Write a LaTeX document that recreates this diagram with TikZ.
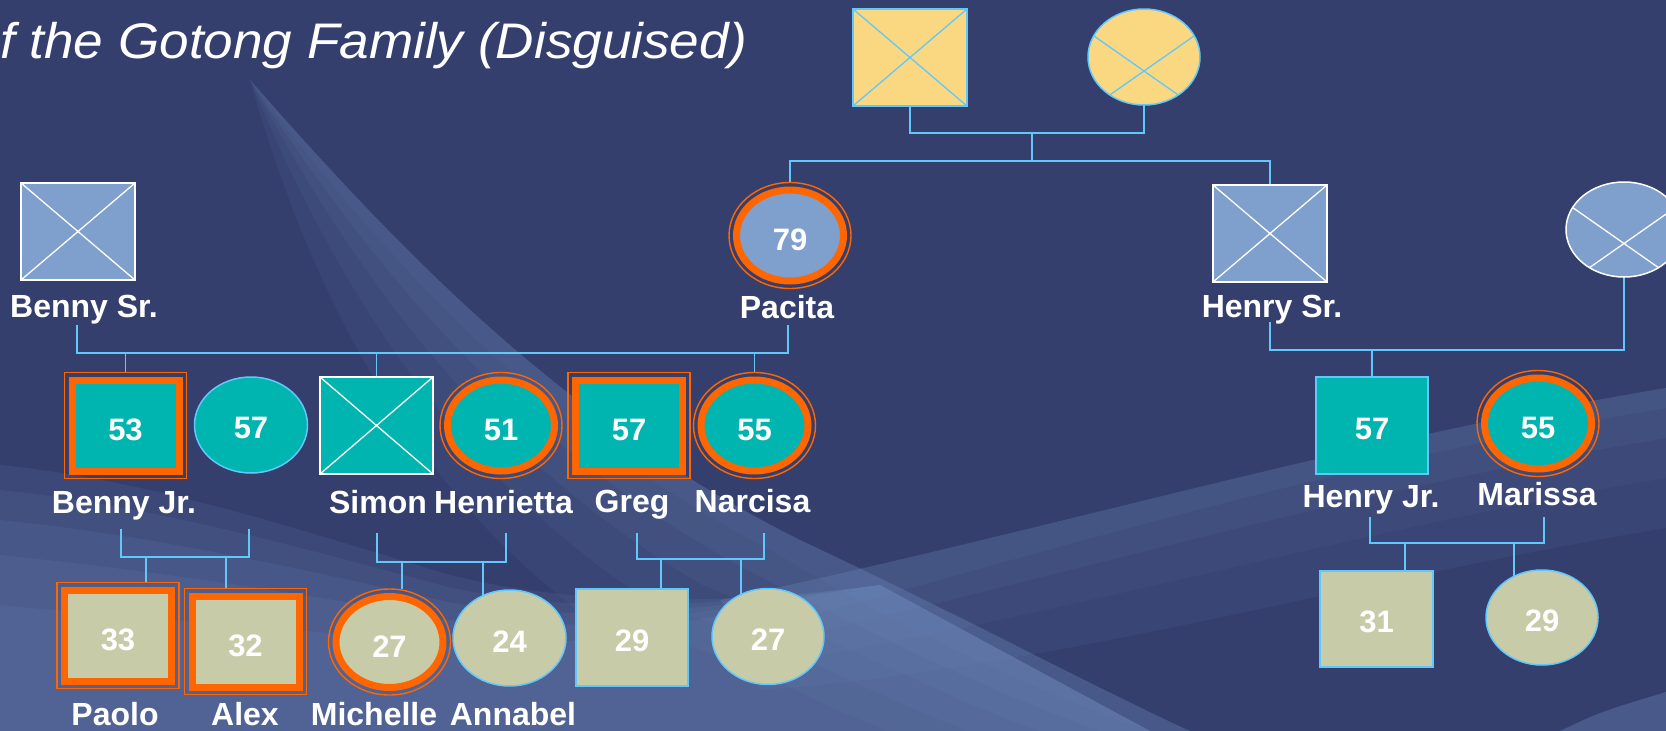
\documentclass[tikz,border=0pt]{standalone}
\usepackage{fontspec}
\usepackage{graphicx}
\setmainfont{Liberation Sans}
\usetikzlibrary{shapes.geometric}
\definecolor{bg}{RGB}{53,63,110}
\definecolor{lnblue}{RGB}{96,200,250}
\definecolor{teal2}{RGB}{0,180,176}
\definecolor{steel}{RGB}{127,159,204}
\definecolor{gold}{RGB}{250,216,130}
\definecolor{khaki}{RGB}{200,203,168}
\definecolor{orng}{RGB}{255,102,0}
\definecolor{swoosh}{RGB}{120,150,200}
\pgfdeclarelayer{bgl}
\pgfdeclarelayer{lines}
\pgfsetlayers{bgl,lines,main}
\tikzset{
  conn/.style={draw=lnblue, line width=1.7pt},
  person/.style={inner sep=0pt, outer sep=0pt, text=white, font=\fontsize{31}{31}\selectfont\bfseries, text height=28pt},
  malebox/.style={person, rectangle, minimum width=113pt, minimum height=97pt, line width=1.5pt},
  femel/.style={person, ellipse, minimum width=113pt, minimum height=96pt, line width=1.5pt},
  affbox/.style={person, rectangle, minimum width=107pt, minimum height=91pt, draw=orng, line width=7pt, text height=31pt},
  affel/.style={person, ellipse, minimum width=107pt, minimum height=91pt, draw=orng, line width=7pt, text height=31pt},
  ringbox/.style={rectangle, minimum width=122pt, minimum height=106pt, draw=orng, line width=1.4pt, inner sep=0pt, outer sep=0pt},
  ringel/.style={ellipse, minimum width=122pt, minimum height=106pt, draw=orng, line width=1.4pt, inner sep=0pt, outer sep=0pt},
  xbox/.style={path picture={\draw[#1, line width=1.3pt] (path picture bounding box.north west) -- (path picture bounding box.south east) (path picture bounding box.north east) -- (path picture bounding box.south west);}},
  xel/.style={path picture={\draw[#1, line width=1.3pt, shift={(path picture bounding box.center)}] (145:90) -- (-35:90) (35:90) -- (215:90);}},
  lbl/.style={anchor=base, inner sep=0pt, text=white, font=\fontsize{32}{32}\selectfont\bfseries},
  sw/.style={fill=swoosh, opacity=0.075},
}
\begin{document}
\begin{tikzpicture}[x=1pt, y=-1pt]
\useasboundingbox (0,0) rectangle (1666,731);
\clip (0,0) rectangle (1666,731);
\begin{pgfonlayer}{bgl}
  \fill[bg] (0,0) rectangle (1666,731);
  % diagonal ribbon, lighter towards its upper-right edge, tapering at the top
  \foreach \o in {20,45,75,110,150} {
    \fill[sw] (250,80) .. controls (400,250) and (560,420) .. (800,540) .. controls (950,610) and (1100,690) .. (1190,731)
      -- ({1190-2*\o},731) .. controls ({1100-2*\o},700) and ({950-1.5*\o},640) .. ({800-1.3*\o},{540+0.6*\o}) .. controls ({560-\o},{420+0.5*\o}) and ({400-0.6*\o},{260+0.2*\o}) .. (250,80) -- cycle;
  }
  % lower-left swoosh
  \foreach \o in {0,25,55,90,140} {
    \fill[sw, opacity=0.11] (0,{465+\o}) .. controls (150,{480+\o}) and (300,{530+0.7*\o}) .. (450,{575+0.5*\o}) .. controls (600,{612+0.3*\o}) and (760,600) .. (880,585) -- (1150,731) -- (0,731) -- cycle;
  }
  % right wave
  \foreach \o in {20,50,90,140} {
    \fill[sw, opacity=0.07] (720,600) .. controls (1050,530) and (1350,440) .. (1666,388) -- (1666,{388+\o}) .. controls (1350,{440+\o}) and (1050,{530+\o}) .. (760,{620+0.5*\o}) -- cycle;
  }
  \fill[sw, opacity=0.3] (1560,731) .. controls (1600,712) .. (1666,692) -- (1666,731) -- cycle;
\end{pgfonlayer}

\node[anchor=base east, inner sep=0pt, text=white, font=\fontsize{50}{50}\selectfont\itshape] (title) at (747,58) {\scalebox{1.062}[1]{f the Gotong Family (Disguised)}};

% generation I
\node[malebox, fill=gold, draw=lnblue, minimum width=114pt, xbox=lnblue] (gf) at (910,57.5) {};
\node[femel, fill=gold, draw=lnblue, minimum width=112pt, xel=lnblue] (gm) at (1144,57) {};

% generation II
\node[malebox, fill=steel, draw=white, minimum width=114pt, xbox=white] (bennysr) at (78,231.5) {};
\node[affel, fill=steel] (pacita) at (790,235.5) {79};
\node[ringel] (pacita-o) at (790,235.5) {};
\node[malebox, fill=steel, draw=white, minimum width=114pt, xbox=white] (henrysr) at (1270,233.5) {};
\node[femel, fill=steel, draw=white, minimum width=116pt, minimum height=95pt, xel=white] (henryw) at (1624,229.5) {};

\node[lbl] (l-bennysr) at (84,317) {Benny Sr.};
\node[lbl] (l-pacita) at (787,318) {Pacita};
\node[lbl] (l-henrysr) at (1272,317) {Henry Sr.};

% generation III
\node[affbox, fill=teal2] (bennyjr) at (125.5,425.5) {53};
\node[ringbox] (bennyjr-o) at (125.5,425.5) {};
\node[femel, fill=teal2, draw=lnblue] (bjwife) at (251,425) {57};
\node[malebox, fill=teal2, draw=white, xbox=white] (simon) at (376.5,425.5) {};
\node[affel, fill=teal2] (henrietta) at (501,425.5) {51};
\node[ringel] (henrietta-o) at (501,425.5) {};
\node[affbox, fill=teal2] (greg) at (629,425.5) {57};
\node[ringbox] (greg-o) at (629,425.5) {};
\node[affel, fill=teal2] (narcisa) at (754.5,425.5) {55};
\node[ringel] (narcisa-o) at (754.5,425.5) {};
\node[malebox, fill=teal2, draw=lnblue, minimum width=112pt] (henryjr) at (1372,425.5) {57};
\node[affel, fill=teal2] (marissa) at (1538,423.5) {55};
\node[ringel] (marissa-o) at (1538,423.5) {};

\node[lbl] (l-bennyjr) at (124,513) {Benny Jr.};
\node[lbl] (l-simon) at (378,513) {Simon};
\node[lbl] (l-henrietta) at (503.5,513) {Henrietta};
\node[lbl] (l-greg) at (632,512) {Greg};
\node[lbl] (l-narcisa) at (752.5,512) {Narcisa};
\node[lbl] (l-henryjr) at (1371,507) {Henry Jr.};
\node[lbl] (l-marissa) at (1537,505) {Marissa};

% generation IV
\node[affbox, fill=khaki] (paolo) at (118,635.5) {33};
\node[ringbox] (paolo-o) at (118,635.5) {};
\node[affbox, fill=khaki] (alex) at (245.5,641.5) {32};
\node[ringbox] (alex-o) at (245.5,641.5) {};
\node[affel, fill=khaki] (michelle) at (389.5,642) {27};
\node[ringel] (michelle-o) at (389.5,642) {};
\node[femel, fill=khaki, draw=lnblue] (annabel) at (509.5,638) {24};
\node[malebox, fill=khaki, draw=lnblue, minimum width=112pt] (g29) at (632,637.5) {29};
\node[femel, fill=khaki, draw=lnblue, minimum width=112pt] (g27) at (768,636.5) {27};
\node[malebox, fill=khaki, draw=lnblue, minimum height=96pt] (h31) at (1376.5,619) {31};
\node[femel, fill=khaki, draw=lnblue, minimum width=112pt, minimum height=95pt] (h29) at (1542,617.5) {29};

\node[lbl] (l-paolo) at (115,725) {Paolo};
\node[lbl] (l-alex) at (245,725) {Alex};
\node[lbl] (l-michelle) at (374,725) {Michelle};
\node[lbl] (l-annabel) at (513,725) {Annabel};

% connectors
\begin{pgfonlayer}{lines}
  \coordinate (c1) at (1032,133);
  \coordinate (c2) at (1032,161);
  \draw[conn] (gf.south) |- (c1) -| (gm.south);
  \draw[conn] (c1) -- (c2);
  \draw[conn] (pacita-o.north) |- (c2) -| (henrysr.north);

  \coordinate (bs-b) at (77,325);
  \coordinate (bp) at (77,353);
  \coordinate (pa-b) at (788,325);
  \draw[conn] (bs-b) -- (bp) -| (pa-b);
  \draw[conn] (bennyjr-o.north |- bp) -- (bennyjr-o.north);
  \draw[conn] (simon.north |- bp) -- (simon.north);
  \draw[conn] (narcisa-o.north |- bp) -- (narcisa-o.north);

  \coordinate (hs-b) at (1270,322);
  \coordinate (hp) at (1270,350);
  \draw[conn] (hs-b) -- (hp) -| (henryw.south);
  \draw[conn] (henryjr.north |- hp) -- (henryjr.north);

  \coordinate (bj-b) at (121,529);
  \coordinate (bjp) at (121,557);
  \coordinate (bw-b) at (249,529);
  \draw[conn] (bj-b) -- (bjp) -| (bw-b);
  \coordinate (d-paolo) at (146,557);
  \coordinate (d-alex) at (226,557);
  \draw[conn] (d-paolo) -- (d-paolo |- paolo-o.north);
  \draw[conn] (d-alex) -- (d-alex |- alex-o.north);

  \coordinate (si-b) at (377,533);
  \coordinate (sip) at (377,562);
  \coordinate (he-b) at (506,533);
  \draw[conn] (si-b) -- (sip) -| (he-b);
  \coordinate (d-michelle) at (402,562);
  \coordinate (d-annabel) at (483,562);
  \draw[conn] (d-michelle) -- (d-michelle |- michelle-o.north);
  \draw[conn] (d-annabel) -- (d-annabel |- annabel.center);

  \coordinate (gr-b) at (637,533);
  \coordinate (grp) at (637,559);
  \coordinate (na-b) at (764,533);
  \draw[conn] (gr-b) -- (grp) -| (na-b);
  \coordinate (d-g29) at (661,559);
  \coordinate (d-g27) at (741,559);
  \draw[conn] (d-g29) -- (d-g29 |- g29.north);
  \draw[conn] (d-g27) -- (d-g27 |- g27.center);

  \coordinate (hj-b) at (1370,517);
  \coordinate (hjp) at (1370,543);
  \coordinate (ma-b) at (1544,517);
  \draw[conn] (hj-b) -- (hjp) -| (ma-b);
  \coordinate (d-h31) at (1405,543);
  \coordinate (d-h29) at (1514,543);
  \draw[conn] (d-h31) -- (d-h31 |- h31.north);
  \draw[conn] (d-h29) -- (d-h29 |- h29.center);
\end{pgfonlayer}
\end{tikzpicture}
\end{document}
